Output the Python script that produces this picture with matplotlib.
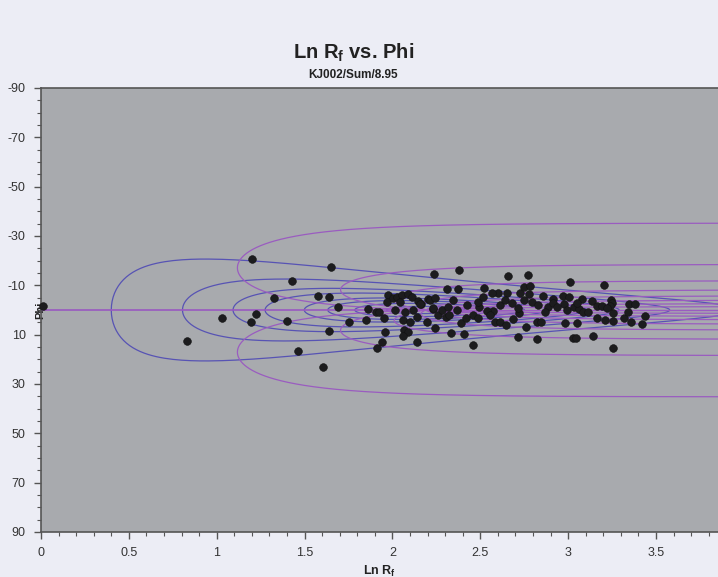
import numpy as np
import matplotlib
matplotlib.use("Agg")
import matplotlib.pyplot as plt
from matplotlib.ticker import MultipleLocator, FuncFormatter


OUTPUT_PATH = "out.png"

# strain ratio used for the reference curves
RS = 8.95
# Ri curves (blue) and theta curves / isogons (purple), in degrees
RI_VALUES = [6, 4, 3, 2.5, 2, 1.75, 1.5, 1.25]
THETA_VALUES = [0, 12, 22, 32, 42, 52, 62, 71.5, 81, 90]

# measured ellipses: ln Rf and Phi (degrees)
LN_RF = [
    0.011, 0.829, 1.032, 1.199, 1.222, 1.194, 1.326, 1.402, 1.431, 1.461,
    1.575, 1.604, 1.640, 1.639, 1.653, 1.689, 1.753, 1.847, 1.860, 1.907,
    1.925, 1.954, 1.974, 1.958, 1.940, 1.914, 1.968, 2.002, 2.024, 2.053,
    2.091, 2.110, 2.043, 2.072, 2.062, 2.100, 2.066, 2.090, 2.059, 2.138,
    2.147, 2.138, 2.163, 2.204, 2.233, 2.261, 2.237, 2.242, 2.381, 2.309,
    2.375, 2.523, 2.603, 2.654, 2.660, 2.769, 3.011, 3.206, 2.726, 2.749,
    2.783, 2.859, 2.916, 2.973, 3.007, 3.081, 3.134, 3.244, 3.252, 3.347,
    3.381, 3.438, 3.419, 3.356, 3.318, 3.257, 3.143, 3.030, 3.045, 3.210,
    3.163, 3.254, 2.982, 3.049, 2.825, 2.713, 2.760, 2.821, 2.844, 2.456,
    2.409, 2.332, 2.303, 2.324, 2.460, 2.489, 2.390, 2.419, 2.584, 2.612,
    2.645, 2.688, 2.722, 2.713, 2.574, 2.612, 2.643, 2.679, 2.751, 2.779,
    2.887, 2.916, 2.978, 2.992, 3.035, 3.064, 3.086, 3.163, 3.191, 3.257,
    3.238, 2.157, 2.214, 2.233, 2.281, 2.119, 2.015, 2.318, 2.366, 2.423,
    2.495, 2.537, 2.347, 2.489, 2.517, 2.565, 2.242, 2.195, 2.555, 2.793,
    2.830, 2.869, 2.935, 3.049, 3.115, 3.220, 3.341,
]
PHI = [
    -1.6, 12.4, 3.4, -20.6, 1.7, 4.7, -4.7, 4.3, -11.8, 16.8,
    -5.6, 23.2, -5.2, 8.5, -17.6, -1.3, 4.7, 3.9, -0.6, 0.7,
    0.7, 3.2, -6.2, 9.1, 12.8, 15.4, -3.4, -4.7, -5.4, -6.1,
    -6.4, -5.4, -3.1, 0.7, 4.1, 5.0, 8.1, 9.0, 10.5, 12.8,
    -3.6, 2.7, -2.3, -4.3, -0.3, 2.0, -14.6, 7.3, -16.2, -8.5,
    -8.6, -9.0, -6.8, -7.0, -13.7, -14.0, -11.4, -10.0, -7.0, -9.2,
    -9.7, -5.8, -4.5, -5.8, -5.4, -4.3, -3.8, -4.1, -2.7, -2.3,
    -2.3, 2.4, 5.8, 4.7, 3.4, 15.4, 10.5, 11.3, 11.3, 4.1,
    3.4, 4.3, 5.4, 5.1, 11.9, 10.9, 6.8, 4.7, 4.7, 14.2,
    9.9, 9.3, 2.7, 2.0, 2.0, 3.1, 5.4, 3.4, 5.0, 4.7,
    6.1, 3.8, 1.3, -0.7, 0.4, -2.0, -4.1, -2.7, -4.1, -6.5,
    -1.1, -2.7, -2.4, 0.0, -1.3, -0.3, 0.7, -1.6, -1.6, 1.3,
    -1.6, -2.4, -4.1, -0.7, 0.0, 0.0, 0.0, -1.3, 0.0, -2.0,
    -1.3, 0.4, -4.1, -3.4, -5.4, -6.8, -4.7, 4.7, 2.0, -3.4,
    -2.0, 0.7, -1.3, -2.7, 0.7, -0.7, 0.8,
]

X_MAX = 3.853
FIG_BG = "#ecedf5"
PLOT_BG = "#a8aaae"
RI_COLOR = "#5753b4"
THETA_COLOR = "#9a5cc0"

plt.rcParams["font.family"] = ["Liberation Sans Narrow", "Liberation Sans", "DejaVu Sans"]
plt.rcParams["axes.unicode_minus"] = False


def strained_shape(ri, theta_deg, rs):
    """Final ln Rf and phi of an ellipse (ratio ri, orientation theta) after strain rs."""
    th = np.radians(theta_deg)
    c, s = np.cos(th), np.sin(th)
    a2, b2 = ri, 1.0 / ri
    m00 = (a2 * c * c + b2 * s * s) * rs
    m11 = (a2 * s * s + b2 * c * c) / rs
    m01 = (a2 - b2) * s * c
    half_tr = 0.5 * (m00 + m11)
    disc = np.sqrt(0.25 * (m00 - m11) ** 2 + m01 ** 2)
    rf = np.sqrt((half_tr + disc) / (half_tr - disc))
    phi = 0.5 * np.degrees(np.arctan2(2 * m01, m00 - m11))
    return np.log(rf), phi


def plot_rf_phi() -> None:
    fig = plt.figure(figsize=(7.18, 5.77), dpi=100, facecolor=FIG_BG)
    ax = fig.add_axes([41 / 718, 1 - 532 / 577, 677 / 718, 444 / 577])
    ax.set_facecolor(PLOT_BG)

    # Ri curves: every initial orientation for a fixed Ri
    thetas = np.linspace(-90, 90, 721)
    for ri in RI_VALUES:
        x, y = strained_shape(ri, thetas, RS)
        ax.plot(x, y, color=RI_COLOR, lw=0.9, zorder=1)

    # theta curves: every Ri for a fixed initial orientation
    ln_ri = np.linspace(0, 8, 1600)
    for theta in THETA_VALUES:
        for sign in (1, -1):
            x, y = strained_shape(np.exp(ln_ri), sign * theta, RS)
            y = np.where(np.abs(y) > 89.5, np.nan, y)
            ax.plot(x, y, color=THETA_COLOR, lw=0.9, zorder=1)

    ax.scatter(LN_RF, PHI, s=31, color="#1c1c1e", edgecolors="#111111",
               linewidths=0.4, zorder=3, clip_on=False)

    ax.set_xlim(0, X_MAX)
    ax.set_ylim(90, -90)
    ax.xaxis.set_major_locator(MultipleLocator(0.5))
    ax.xaxis.set_minor_locator(MultipleLocator(0.1))
    ax.yaxis.set_minor_locator(MultipleLocator(5))
    ax.set_yticks(np.arange(-90, 91, 20))
    ax.xaxis.set_major_formatter(FuncFormatter(lambda v, _: f"{v:g}"))
    ax.yaxis.set_major_formatter(FuncFormatter(lambda v, _: f"{v:g}"))
    ax.tick_params(which="major", direction="out", length=5, width=1,
                   color="#555555", labelsize=9, labelcolor="#333333", pad=6)
    ax.tick_params(which="minor", direction="out", length=3, width=0.8, color="#555555")

    for side in ("left", "bottom", "top"):
        ax.spines[side].set_color("#555555")
        ax.spines[side].set_linewidth(1.2)
    ax.spines["right"].set_visible(False)

    ax.set_xlabel("Ln R$_\\mathregular{f}$", fontsize=9, fontweight="bold", color="#222222", labelpad=3)
    ax.set_ylabel("Phi", fontsize=8, fontweight="bold", color="#222222")
    ax.yaxis.set_label_coords(0.006, 0.5)

    fig.text(0.492, 0.908, "Ln R$_\\mathregular{f}$ vs. Phi", ha="center", va="center",
             fontsize=14.5, fontweight="bold", color="#222222")
    fig.text(0.492, 0.870, "KJ002/Sum/8.95", ha="center", va="center",
             fontsize=8.5, fontweight="bold", color="#222222")

    fig.savefig(OUTPUT_PATH, dpi=100, facecolor=FIG_BG)


if __name__ == "__main__":
    plot_rf_phi()
